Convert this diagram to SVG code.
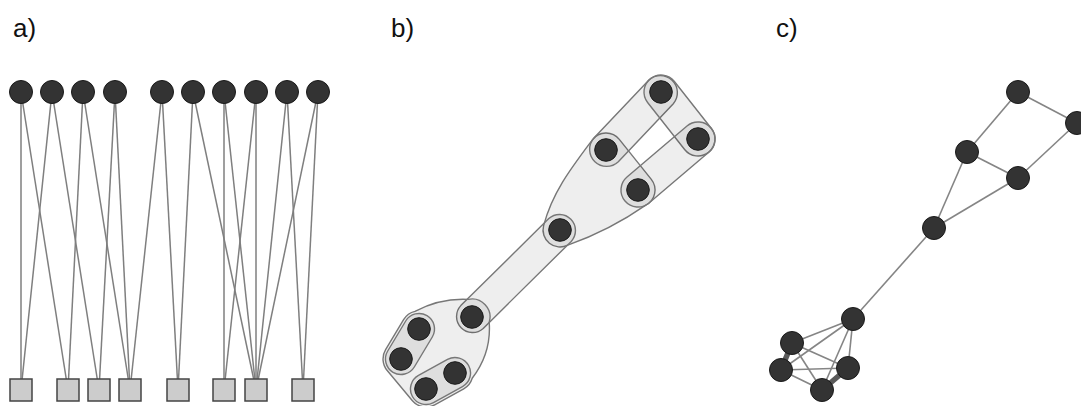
<svg xmlns="http://www.w3.org/2000/svg" width="1081" height="406" viewBox="0 0 1081 406">
<style>
.lbl{font-family:"Liberation Sans",Arial,sans-serif;font-size:26px;fill:#111}
.e{stroke:#7f7f7f;stroke-width:1.5;fill:none}
.ec{stroke:#858585;stroke-width:1.6;fill:none}
.thick{stroke:#5a5a5a;stroke-width:5.5;fill:none}
.n{fill:#333;stroke:#1a1a1a;stroke-width:1}
.sq{fill:#cccccc;stroke:#444;stroke-width:1.5}
.hull{fill:#000;fill-opacity:0.065;stroke:#777;stroke-width:1.4}
</style>
<rect width="1081" height="406" fill="#fff"/>
<text class="lbl" x="13" y="37">a)</text>
<text class="lbl" x="391" y="37">b)</text>
<text class="lbl" x="776" y="37">c)</text>

<g id="connectors">
  <g id="a-edges">
    <line class="e" x1="21" y1="92" x2="21" y2="390"/>
    <line class="e" x1="21" y1="92" x2="68" y2="390"/>
    <line class="e" x1="52" y1="92" x2="21" y2="390"/>
    <line class="e" x1="52" y1="92" x2="99" y2="390"/>
    <line class="e" x1="83" y1="92" x2="68" y2="390"/>
    <line class="e" x1="83" y1="92" x2="130" y2="390"/>
    <line class="e" x1="115" y1="92" x2="99" y2="390"/>
    <line class="e" x1="115" y1="92" x2="130" y2="390"/>
    <line class="e" x1="162" y1="92" x2="130" y2="390"/>
    <line class="e" x1="162" y1="92" x2="178" y2="390"/>
    <line class="e" x1="193" y1="92" x2="178" y2="390"/>
    <line class="e" x1="193" y1="92" x2="256" y2="390"/>
    <line class="e" x1="224" y1="92" x2="224" y2="390"/>
    <line class="e" x1="224" y1="92" x2="256" y2="390"/>
    <line class="e" x1="256" y1="92" x2="224" y2="390"/>
    <line class="e" x1="256" y1="92" x2="256" y2="390"/>
    <line class="e" x1="287" y1="92" x2="256" y2="390"/>
    <line class="e" x1="287" y1="92" x2="303" y2="390"/>
    <line class="e" x1="318" y1="92" x2="256" y2="390"/>
    <line class="e" x1="318" y1="92" x2="303" y2="390"/>
  </g>
  <g id="c-edges">
    <line class="ec" x1="1018" y1="92" x2="1077" y2="123"/>
    <line class="ec" x1="1018" y1="92" x2="967" y2="152"/>
    <line class="ec" x1="967" y1="152" x2="1018" y2="178"/>
    <line class="ec" x1="1018" y1="178" x2="1077" y2="123"/>
    <line class="ec" x1="967" y1="152" x2="934" y2="228"/>
    <line class="ec" x1="1018" y1="178" x2="934" y2="228"/>
    <line class="ec" x1="934" y1="228" x2="853" y2="319"/>
    <line class="ec" x1="853" y1="319" x2="792" y2="343"/>
    <line class="ec" x1="853" y1="319" x2="781" y2="370"/>
    <line class="ec" x1="853" y1="319" x2="848" y2="368"/>
    <line class="ec" x1="853" y1="319" x2="822" y2="390"/>
    <line class="ec" x1="792" y1="343" x2="848" y2="368"/>
    <line class="ec" x1="792" y1="343" x2="822" y2="390"/>
    <line class="ec" x1="781" y1="370" x2="848" y2="368"/>
    <line class="ec" x1="781" y1="370" x2="822" y2="390"/>
    <line class="thick" x1="792" y1="343" x2="781" y2="370"/>
    <line class="thick" x1="848" y1="368" x2="822" y2="390"/>
  </g>
</g>

<g id="a-top">
  <circle id="a-t1" class="n" cx="21" cy="92" r="11.5"/>
  <circle id="a-t2" class="n" cx="52" cy="92" r="11.5"/>
  <circle id="a-t3" class="n" cx="83" cy="92" r="11.5"/>
  <circle id="a-t4" class="n" cx="115" cy="92" r="11.5"/>
  <circle id="a-t5" class="n" cx="162" cy="92" r="11.5"/>
  <circle id="a-t6" class="n" cx="193" cy="92" r="11.5"/>
  <circle id="a-t7" class="n" cx="224" cy="92" r="11.5"/>
  <circle id="a-t8" class="n" cx="256" cy="92" r="11.5"/>
  <circle id="a-t9" class="n" cx="287" cy="92" r="11.5"/>
  <circle id="a-t10" class="n" cx="318" cy="92" r="11.5"/>
</g>
<g id="a-bottom">
  <rect id="a-s1" class="sq" x="10" y="379" width="22" height="22"/>
  <rect id="a-s2" class="sq" x="57" y="379" width="22" height="22"/>
  <rect id="a-s3" class="sq" x="88" y="379" width="22" height="22"/>
  <rect id="a-s4" class="sq" x="119" y="379" width="22" height="22"/>
  <rect id="a-s5" class="sq" x="167" y="379" width="22" height="22"/>
  <rect id="a-s6" class="sq" x="213" y="379" width="22" height="22"/>
  <rect id="a-s7" class="sq" x="245" y="379" width="22" height="22"/>
  <rect id="a-s8" class="sq" x="292" y="379" width="22" height="22"/>
</g>

<g id="b-hulls">
  <path id="h-n3n4n5" class="hull" d="M 592.4,139.8 A 17 17 0 0 1 619.3,139.4 L 651.3,179.4 A 17 17 0 0 1 645.8,205.1 Q 609.5,230.4 567.8,245.1 A 17 17 0 0 1 543.6,225.6 C 552.7,191.8 571.4,167.8 592.4,139.8 Z"/>
  <path id="h-n1n3" class="hull" d="M 618.3,161.7 L 673.3,103.7 A 17 17 0 0 0 648.7,80.3 L 593.7,138.3 A 17 17 0 0 0 618.3,161.7 Z"/>
  <path id="h-n1n2" class="hull" d="M 647.6,102.5 L 684.6,149.5 A 17 17 0 0 0 711.4,128.5 L 674.4,81.5 A 17 17 0 0 0 647.6,102.5 Z"/>
  <path id="h-n2n4" class="hull" d="M 649,203 L 709,152 A 17 17 0 0 0 687,126 L 627,177 A 17 17 0 0 0 649,203 Z"/>
  <path id="h-n5n6" class="hull" d="M 483.2,328.4 L 571.2,241.4 A 16 16 0 0 0 548.8,218.6 L 460.8,305.6 A 16 16 0 0 0 483.2,328.4 Z"/>
  <path id="h-blob" class="hull" d="M 403.6,319.7 A 18 18 0 0 1 415,311.4 Q 440.2,298 468,299.4 A 18 18 0 0 1 489.2,322.2 Q 491.5,353.1 472.2,378.2 A 18 18 0 0 1 463.7,388.8 L 434.7,404.8 A 18 18 0 0 1 412.2,400.5 L 387.2,370.5 A 18 18 0 0 1 385.6,349.7 Z"/>
  <path id="h-n7n8" class="hull" d="M 414.3,367 L 432.3,337 A 15.5 15.5 0 0 0 405.7,321 L 387.7,351 A 15.5 15.5 0 0 0 414.3,367 Z"/>
  <path id="h-n9n10" class="hull" d="M 433.5,402.6 L 462.5,386.6 A 15.5 15.5 0 0 0 447.5,359.4 L 418.5,375.4 A 15.5 15.5 0 0 0 433.5,402.6 Z"/>
</g>
<g id="b-nodes">
  <circle id="b-n1" class="n" cx="661" cy="92" r="11.3"/>
  <circle id="b-n2" class="n" cx="698" cy="139" r="11.3"/>
  <circle id="b-n3" class="n" cx="606" cy="150" r="11.3"/>
  <circle id="b-n4" class="n" cx="638" cy="190" r="11.3"/>
  <circle id="b-n5" class="n" cx="560" cy="230" r="11.3"/>
  <circle id="b-n6" class="n" cx="472" cy="317" r="11.3"/>
  <circle id="b-n7" class="n" cx="419" cy="329" r="11.3"/>
  <circle id="b-n8" class="n" cx="401" cy="359" r="11.3"/>
  <circle id="b-n9" class="n" cx="455" cy="373" r="11.3"/>
  <circle id="b-n10" class="n" cx="426" cy="389" r="11.3"/>
</g>

<g id="c-nodes">
  <circle id="c-n1" class="n" cx="1018" cy="92" r="11.5"/>
  <circle id="c-n2" class="n" cx="1077" cy="123" r="11.5"/>
  <circle id="c-n3" class="n" cx="967" cy="152" r="11.5"/>
  <circle id="c-n4" class="n" cx="1018" cy="178" r="11.5"/>
  <circle id="c-n5" class="n" cx="934" cy="228" r="11.5"/>
  <circle id="c-n6" class="n" cx="853" cy="319" r="11.5"/>
  <circle id="c-n7" class="n" cx="792" cy="343" r="11.5"/>
  <circle id="c-n8" class="n" cx="781" cy="370" r="11.5"/>
  <circle id="c-n9" class="n" cx="848" cy="368" r="11.5"/>
  <circle id="c-n10" class="n" cx="822" cy="390" r="11.5"/>
</g>
</svg>
